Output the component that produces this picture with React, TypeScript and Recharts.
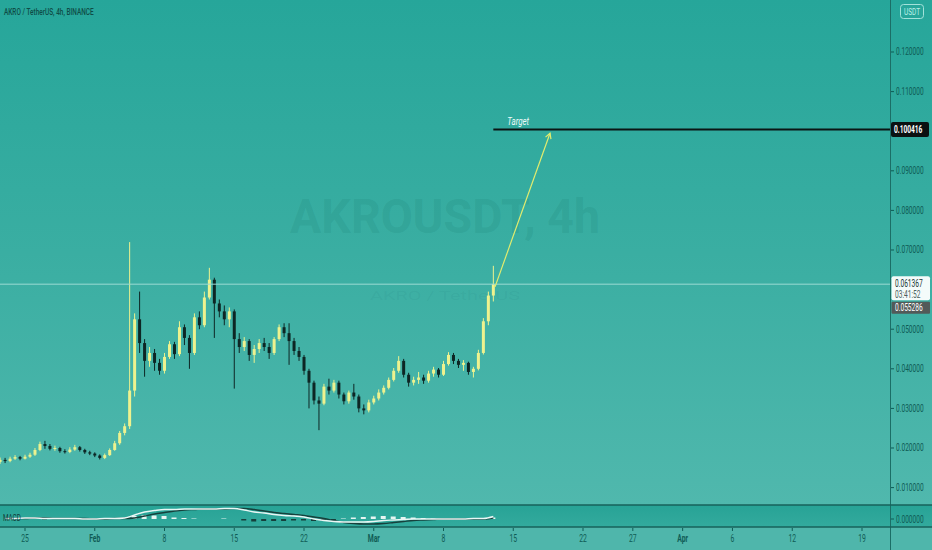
import React from 'react';
import { ComposedChart, Bar, Line, XAxis, YAxis, ReferenceLine, Cell } from 'recharts';

// ---- candle data (12h candles, day-of-year 2021) ----
const CANDLE_START_DAY = 22.5;
const CANDLE_STEP_DAYS = 0.5;
const OPEN = [
  0.0165,0.0170,0.0167,0.0173,0.0177,0.0173,0.0178,0.0183,0.0195,0.0210,
  0.0205,0.0198,0.0200,0.0192,0.0190,0.0196,0.0202,0.0195,0.0189,0.0186,
  0.0181,0.0175,0.0182,0.0195,0.0212,0.0238,0.0255,0.0345,0.0525,0.0465,
  0.0420,0.0440,0.0415,0.0395,0.0430,0.0462,0.0437,0.0505,0.0478,0.0440,
  0.0530,0.0510,0.0580,0.0625,0.0565,0.0545,0.0525,0.0545,0.0475,0.0455,
  0.0470,0.0435,0.0450,0.0465,0.0455,0.0440,0.0475,0.0505,0.0490,0.0470,
  0.0445,0.0430,0.0395,0.0365,0.0320,0.0312,0.0355,0.0345,0.0365,0.0335,
  0.0318,0.0340,0.0330,0.0300,0.0295,0.0315,0.0325,0.0340,0.0352,0.0372,
  0.0395,0.0420,0.0385,0.0365,0.0372,0.0378,0.0370,0.0388,0.0398,0.0385,
  0.0412,0.0435,0.0420,0.0410,0.0415,0.0392,0.0400,0.0440,0.0520,0.0585,
];
const HIGH = [
  0.0176,0.0175,0.0178,0.0182,0.0180,0.0183,0.0188,0.0200,0.0216,0.0218,
  0.0210,0.0206,0.0203,0.0197,0.0202,0.0208,0.0205,0.0198,0.0193,0.0189,
  0.0184,0.0186,0.0199,0.0218,0.0243,0.0262,0.0720,0.0540,0.0595,0.0475,
  0.0455,0.0450,0.0425,0.0440,0.0470,0.0468,0.0520,0.0512,0.0485,0.0540,
  0.0545,0.0595,0.0655,0.0630,0.0575,0.0560,0.0555,0.0550,0.0490,0.0480,
  0.0475,0.0460,0.0475,0.0478,0.0465,0.0480,0.0512,0.0515,0.0515,0.0478,
  0.0455,0.0435,0.0400,0.0370,0.0330,0.0362,0.0375,0.0372,0.0370,0.0340,
  0.0345,0.0362,0.0335,0.0310,0.0322,0.0332,0.0348,0.0358,0.0378,0.0402,
  0.0432,0.0425,0.0390,0.0380,0.0392,0.0385,0.0395,0.0405,0.0402,0.0420,
  0.0442,0.0440,0.0425,0.0422,0.0418,0.0405,0.0448,0.0528,0.0595,0.0660,
];
const LOW = [
  0.0160,0.0162,0.0164,0.0170,0.0169,0.0171,0.0175,0.0180,0.0192,0.0198,
  0.0194,0.0193,0.0188,0.0186,0.0187,0.0193,0.0191,0.0185,0.0182,0.0177,
  0.0171,0.0172,0.0180,0.0193,0.0208,0.0232,0.0248,0.0330,0.0440,0.0380,
  0.0405,0.0395,0.0385,0.0388,0.0425,0.0425,0.0432,0.0460,0.0400,0.0435,
  0.0500,0.0505,0.0575,0.0478,0.0530,0.0510,0.0505,0.0350,0.0440,0.0445,
  0.0420,0.0415,0.0440,0.0445,0.0425,0.0435,0.0470,0.0480,0.0410,0.0435,
  0.0420,0.0385,0.0300,0.0310,0.0245,0.0308,0.0335,0.0340,0.0325,0.0310,
  0.0312,0.0322,0.0290,0.0285,0.0290,0.0310,0.0320,0.0335,0.0348,0.0368,
  0.0390,0.0378,0.0355,0.0358,0.0362,0.0362,0.0365,0.0380,0.0378,0.0382,
  0.0408,0.0412,0.0402,0.0395,0.0385,0.0378,0.0396,0.0436,0.0510,0.0570,
];
const CLOSE = [
  0.0170,0.0167,0.0173,0.0177,0.0173,0.0178,0.0183,0.0195,0.0210,0.0205,
  0.0198,0.0200,0.0192,0.0190,0.0196,0.0202,0.0195,0.0189,0.0186,0.0181,
  0.0175,0.0182,0.0195,0.0212,0.0238,0.0255,0.0345,0.0525,0.0465,0.0420,
  0.0440,0.0415,0.0395,0.0430,0.0462,0.0437,0.0505,0.0478,0.0440,0.0530,
  0.0510,0.0580,0.0625,0.0565,0.0545,0.0525,0.0545,0.0475,0.0455,0.0470,
  0.0435,0.0450,0.0465,0.0455,0.0440,0.0475,0.0505,0.0490,0.0470,0.0445,
  0.0430,0.0395,0.0365,0.0320,0.0312,0.0355,0.0345,0.0365,0.0335,0.0318,
  0.0340,0.0330,0.0300,0.0295,0.0315,0.0325,0.0340,0.0352,0.0372,0.0395,
  0.0420,0.0385,0.0365,0.0372,0.0378,0.0370,0.0388,0.0398,0.0385,0.0412,
  0.0435,0.0420,0.0410,0.0415,0.0392,0.0400,0.0440,0.0520,0.0585,0.0614,
];

// ---- MACD pane (daily samples) ----
const MACD_DAYS = [
  23,24,25,26,27,28,29,30,31,32,33,34,35,36,37,38,39,40,41,42,43,44,45,46,47,
  48,49,50,51,52,53,54,55,56,57,58,59,60,61,62,63,64,65,66,67,68,69,70,71,72,
];
const MACD_LINE = [
  0.0001,0.0001,0.0002,0.0002,0.0001,0.0001,0.0001,0.0001,0.0000,0.0000,0.0001,0.0001,
  0.0002,0.0008,0.0014,0.0017,0.0019,0.0019,0.0020,0.0020,0.0020,0.0020,0.0021,0.0021,
  0.0018,0.0014,0.0012,0.0009,0.0007,0.0006,0.0004,0.0000,-0.0003,-0.0005,-0.0006,-0.0006,
  -0.0006,-0.0005,-0.0003,-0.0002,-0.0001,0.0000,0.0000,0.0000,0.0000,0.0000,0.0000,0.0001,
  0.0001,0.0005,
];
const SIGNAL_LINE = [
  0.0001,0.0001,0.0001,0.0002,0.0002,0.0001,0.0001,0.0001,0.0001,0.0000,0.0000,0.0001,
  0.0001,0.0002,0.0006,0.0010,0.0013,0.0016,0.0018,0.0019,0.0020,0.0020,0.0020,0.0021,
  0.0021,0.0019,0.0016,0.0013,0.0011,0.0009,0.0007,0.0004,0.0001,-0.0003,-0.0007,-0.0009,
  -0.0010,-0.0010,-0.0009,-0.0007,-0.0005,-0.0003,-0.0002,-0.0001,0.0000,0.0000,0.0000,0.0000,
  0.0000,0.0002,
];
const HISTOGRAM = [
  0.0000,0.0000,0.0001,0.0000,-0.0001,0.0000,0.0000,0.0000,-0.0001,0.0000,0.0001,0.0000,
  0.0001,0.0006,0.0008,0.0007,0.0006,0.0003,0.0002,0.0001,0.0000,0.0000,0.0001,0.0000,
  -0.0003,-0.0005,-0.0004,-0.0004,-0.0004,-0.0003,-0.0003,-0.0004,-0.0004,-0.0002,0.0001,0.0003,
  0.0004,0.0005,0.0006,0.0005,0.0004,0.0003,0.0002,0.0001,0.0000,0.0000,0.0000,0.0001,
  0.0001,0.0003,
];

// ---- axes / annotations ----
const PRICE_TICKS = [0.01,0.02,0.03,0.04,0.05,0.07,0.08,0.09,0.11,0.12];
const MACD_TICKS = [0];
const DATE_TICKS = [25,32,39,46,53,60,67,74,81,86,91,96,102,109];
const DATE_LABELS = ['25','Feb','8','15','22','Mar','8','15','22','27','Apr','6','12','19'];
const MONTH_LABELS = ['Feb','Mar','Apr'];

const LAST_PRICE = 0.061367;
const LAST_TIMER = '03:41:52';
const MA_PRICE = 0.055286;
const TARGET_PRICE = 0.100416;
const TARGET_FROM_DAY = 72.0;
const ARROW_FROM = { day: 72.17, price: 0.0607 };
const ARROW_TO = { day: 77.69, price: 0.0995 };

const X_DOMAIN = [22.49, 111.81];
const PRICE_DOMAIN = [0.005606, 0.133131];
const MACD_DOMAIN = [-0.0016, 0.0028];

const UP = '#eef28e';
const DOWN = '#0d2624';
const AXIS_TEXT = '#0f5c55';
const FONT = 'Roboto, "DejaVu Sans", sans-serif';

const candles = OPEN.map((o, i) => ({
  day: CANDLE_START_DAY + i * CANDLE_STEP_DAYS,
  open: o,
  high: HIGH[i],
  low: LOW[i],
  close: CLOSE[i],
}));

const macdData = MACD_DAYS.map((d, i) => ({
  day: d,
  macd: MACD_LINE[i],
  signal: SIGNAL_LINE[i],
  hist: HISTOGRAM[i],
}));

// narrow text drawn via a horizontal squeeze
const Squeezed = ({ x, y, sx = 0.68, children, ...rest }: any) => (
  <text transform={`translate(${x},${y}) scale(${sx},1)`} x={0} y={0} fontFamily={FONT} {...rest}>
    {children}
  </text>
);

const Candle = (p: any) => {
  const { x, y, width, height, payload } = p;
  if (x == null || y == null) return null;
  const top = Math.min(y, y + height);
  const h = Math.abs(height);
  const { open, close, high, low } = payload;
  const ratio = h / (high - low);
  const yO = top + (high - open) * ratio;
  const yC = top + (high - close) * ratio;
  const color = close >= open ? UP : DOWN;
  const cx = x + width / 2;
  return (
    <g>
      <line x1={cx} x2={cx} y1={top} y2={top + h} stroke={color} strokeWidth={1} />
      <rect x={x} y={Math.min(yO, yC)} width={width} height={Math.max(1, Math.abs(yC - yO))} fill={color} />
    </g>
  );
};

const PriceTick = (p: any) => {
  const { x, y, payload } = p;
  return (
    <g>
      <line x1={x + 1} x2={x + 4} y1={y} y2={y} stroke={AXIS_TEXT} strokeWidth={1} />
      <Squeezed x={x + 6} y={y + 3.5} sx={0.66} fontSize={10} fill={AXIS_TEXT}>
        {Number(payload.value).toFixed(6)}
      </Squeezed>
    </g>
  );
};

const DateTick = (p: any) => {
  const { x, y, payload } = p;
  const idx = DATE_TICKS.indexOf(payload.value);
  const label = idx >= 0 ? DATE_LABELS[idx] : '';
  const isMonth = MONTH_LABELS.includes(label);
  return (
    <g>
      <line x1={x} x2={x} y1={y + 1} y2={y + 4} stroke={AXIS_TEXT} strokeWidth={1} />
      <Squeezed x={x} y={y + 15} sx={0.62} textAnchor="middle" fontSize={11}
        fontWeight={isMonth ? 700 : 400} fill={AXIS_TEXT}>
        {label}
      </Squeezed>
    </g>
  );
};

const TargetShape = (p: any) => {
  const { x1, y1, x2 } = p;
  const left = Math.min(x1, x2);
  const right = Math.max(x1, x2);
  return (
    <g>
      <line x1={left} y1={y1} x2={right} y2={y1} stroke="#0a1514" strokeWidth={2} />
      <Squeezed x={left + 14} y={y1 - 5} sx={0.72} fontSize={11} fontStyle="italic" fill="#eefaf8">Target</Squeezed>
      <rect x={right + 1} y={y1 - 7.5} width={38} height={15} rx={2} fill="#0b1111" />
      <Squeezed x={right + 4} y={y1 + 3.5} sx={0.66} fontSize={10} fontWeight={700} fill="#ffffff">
        {TARGET_PRICE.toFixed(6)}
      </Squeezed>
    </g>
  );
};

const LastPriceShape = (p: any) => {
  const { x1, y1, x2 } = p;
  const left = Math.min(x1, x2);
  const right = Math.max(x1, x2);
  return (
    <g>
      <line x1={left} y1={y1} x2={right} y2={y1} stroke="#9adbd3" strokeWidth={1} />
      <rect x={right + 1.5} y={y1 - 8} width={38.5} height={24} rx={2} fill="#f4fbfa" />
      <Squeezed x={right + 5} y={y1 + 3} sx={0.66} fontSize={10} fill="#173634">{LAST_PRICE.toFixed(6)}</Squeezed>
      <Squeezed x={right + 5} y={y1 + 14} sx={0.66} fontSize={10} fill="#4c5f5d">{LAST_TIMER}</Squeezed>
    </g>
  );
};

const MaPriceShape = (p: any) => {
  const { x1, y1, x2 } = p;
  const right = Math.max(x1, x2);
  return (
    <g>
      <rect x={right + 1.5} y={y1 - 6.5} width={38.5} height={12} rx={1} fill="#525a59" />
      <Squeezed x={right + 5} y={y1 + 3} sx={0.66} fontSize={10} fill="#ffffff">{MA_PRICE.toFixed(6)}</Squeezed>
    </g>
  );
};

const ArrowShape = (p: any) => {
  const { x1, y1, x2, y2 } = p;
  const ang = Math.atan2(y2 - y1, x2 - x1);
  const L = 6;
  const a1 = ang + Math.PI - 0.5;
  const a2 = ang + Math.PI + 0.5;
  const d = `M${x2 + L * Math.cos(a1)},${y2 + L * Math.sin(a1)} L${x2},${y2} L${x2 + L * Math.cos(a2)},${y2 + L * Math.sin(a2)}`;
  return (
    <g>
      <line x1={x1} y1={y1} x2={x2} y2={y2} stroke="#e2ec6e" strokeWidth={1.2} />
      <path d={d} fill="none" stroke="#e2ec6e" strokeWidth={1.2} />
    </g>
  );
};

export default function App() {
  return (
    <div style={{ position: 'absolute', left: 0, top: 0, width: 932, height: 550, overflow: 'hidden', fontFamily: FONT }}>
      <div style={{ position: 'absolute', left: 0, top: 0, width: 932, height: 505, background: 'linear-gradient(to bottom, #26a69a 0%, #3aaea2 50%, #50b8ad 100%)' }} />
      <div style={{ position: 'absolute', left: 0, top: 505, width: 932, height: 22, background: 'linear-gradient(to bottom, #27a396, #33aa9d)' }} />
      <div style={{ position: 'absolute', left: 0, top: 527, width: 932, height: 23, background: '#4fb6ab' }} />

      <svg width={932} height={505} style={{ position: 'absolute', left: 0, top: 0 }}>
        <text x={445} y={233} textAnchor="middle" fontSize={48} fontWeight={700} fill="#106e64" fillOpacity={0.15}
          fontFamily={FONT} textLength={310} lengthAdjust="spacingAndGlyphs">AKROUSDT, 4h</text>
        <text x={445} y={300} textAnchor="middle" fontSize={12} fill="#106e64" fillOpacity={0.08}
          fontFamily={FONT} textLength={150} lengthAdjust="spacingAndGlyphs">AKRO / TetherUS</text>
      </svg>

      <div style={{ position: 'absolute', left: 0, top: 0 }}>
        <ComposedChart width={932} height={505} data={candles} margin={{ top: 0, right: 0, bottom: 0, left: 0 }}>
          <XAxis type="number" dataKey="day" domain={X_DOMAIN} hide allowDataOverflow />
          <YAxis orientation="right" width={42} domain={PRICE_DOMAIN} ticks={PRICE_TICKS} allowDataOverflow
            axisLine={false} tickLine={false} tickSize={0} tickMargin={0} tick={<PriceTick />} interval={0} />
          <ReferenceLine y={LAST_PRICE} shape={LastPriceShape} ifOverflow="visible" />
          <ReferenceLine y={MA_PRICE} shape={MaPriceShape} ifOverflow="visible" />
          <Bar dataKey={(d: any) => [d.low, d.high]} barSize={3} shape={Candle} isAnimationActive={false} />
          <ReferenceLine
            segment={[{ x: TARGET_FROM_DAY, y: TARGET_PRICE }, { x: X_DOMAIN[1], y: TARGET_PRICE }]}
            shape={TargetShape} ifOverflow="visible" />
          <ReferenceLine
            segment={[{ x: ARROW_FROM.day, y: ARROW_FROM.price }, { x: ARROW_TO.day, y: ARROW_TO.price }]}
            shape={ArrowShape} ifOverflow="visible" />
        </ComposedChart>
      </div>

      <div style={{ position: 'absolute', left: 0, top: 505 }}>
        <ComposedChart width={932} height={45} data={macdData} margin={{ top: 0, right: 0, bottom: 0, left: 0 }}>
          <XAxis type="number" dataKey="day" domain={X_DOMAIN} ticks={DATE_TICKS} height={23} allowDataOverflow
            axisLine={false} tickLine={false} tickSize={0} tickMargin={0} tick={<DateTick />} interval={0} />
          <YAxis orientation="right" width={42} domain={MACD_DOMAIN} ticks={MACD_TICKS} allowDataOverflow
            axisLine={false} tickLine={false} tickSize={0} tickMargin={0} tick={<PriceTick />} interval={0} />
          <Bar dataKey="hist" barSize={5} isAnimationActive={false}>
            {macdData.map((d, i) => (
              <Cell key={i} fill={d.hist >= 0 ? '#e6f5f2' : '#153f3b'} />
            ))}
          </Bar>
          <Line type="monotone" dataKey="signal" stroke="#16403c" strokeWidth={1.4} dot={false} isAnimationActive={false} />
          <Line type="monotone" dataKey="macd" stroke="#eaf7f5" strokeWidth={1.4} dot={false} isAnimationActive={false} />
        </ComposedChart>
      </div>

      <svg width={932} height={550} style={{ position: 'absolute', left: 0, top: 0, pointerEvents: 'none' }}>
        <line x1={890.5} x2={890.5} y1={0} y2={550} stroke="#1b6e66" strokeWidth={1} />
        <line x1={0} x2={932} y1={505} y2={505} stroke="#17625b" strokeWidth={1.5} />
        <line x1={0} x2={932} y1={527} y2={527} stroke="#17625b" strokeWidth={1.5} />
        <Squeezed x={4} y={15} sx={0.68} fontSize={9.5} fontWeight={500} fill="#0f4d47">AKRO / TetherUS, 4h, BINANCE</Squeezed>
        <rect x={900.5} y={4.5} width={23} height={14} rx={3} fill="#28a69a" stroke="#a2e2da" strokeWidth={1} />
        <Squeezed x={912} y={15} sx={0.72} textAnchor="middle" fontSize={9} fill="#b8eee7">USDT</Squeezed>
        <Squeezed x={3} y={521} sx={0.7} fontSize={9} fill="#0f3d39">MACD</Squeezed>
      </svg>
    </div>
  );
}
